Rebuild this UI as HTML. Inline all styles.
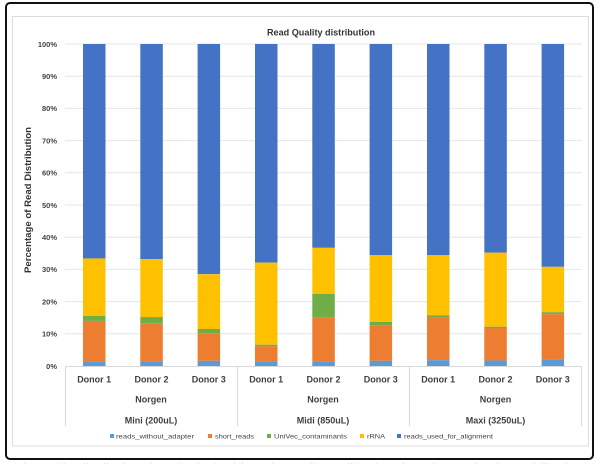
<!DOCTYPE html>
<html><head><meta charset="utf-8"><style>
html,body{margin:0;padding:0;background:#fff;}
svg{display:block;}
text{font-family:"Liberation Sans",sans-serif;}
</style></head><body>
<svg width="600" height="464" viewBox="0 0 600 464" xmlns="http://www.w3.org/2000/svg">
<rect x="0" y="0" width="600" height="464" fill="#fff"/>
<!-- outer frame -->
<rect x="6" y="3" width="587" height="456" rx="4" fill="#fff" stroke="#111" stroke-width="2"/>
<!-- inner chart border -->
<rect x="12.5" y="16.5" width="576" height="429.5" fill="#fff" stroke="#dcdcdc" stroke-width="1"/>
<!-- title -->
<text x="321" y="35.5" font-size="9.5" font-weight="bold" text-anchor="middle" fill="#333" textLength="108" lengthAdjust="spacingAndGlyphs">Read Quality distribution</text>
<!-- gridlines -->
<g stroke="#e6e6e6" stroke-width="1">
<line x1="65" x2="582" y1="44" y2="44"/>
<line x1="65" x2="582" y1="76.2" y2="76.2"/>
<line x1="65" x2="582" y1="108.4" y2="108.4"/>
<line x1="65" x2="582" y1="140.6" y2="140.6"/>
<line x1="65" x2="582" y1="172.8" y2="172.8"/>
<line x1="65" x2="582" y1="205" y2="205"/>
<line x1="65" x2="582" y1="237.2" y2="237.2"/>
<line x1="65" x2="582" y1="269.4" y2="269.4"/>
<line x1="65" x2="582" y1="301.6" y2="301.6"/>
<line x1="65" x2="582" y1="333.8" y2="333.8"/>
</g>
<!-- y tick labels -->
<g font-size="7.5" font-weight="bold" fill="#444" text-anchor="end">
<text x="57" y="46.8">100%</text>
<text x="57" y="79">90%</text>
<text x="57" y="111.2">80%</text>
<text x="57" y="143.4">70%</text>
<text x="57" y="175.6">60%</text>
<text x="57" y="207.8">50%</text>
<text x="57" y="240">40%</text>
<text x="57" y="272.2">30%</text>
<text x="57" y="304.4">20%</text>
<text x="57" y="336.6">10%</text>
<text x="57" y="368.8">0%</text>
</g>
<!-- y axis title -->
<text transform="translate(31,200) rotate(-90)" font-size="9" font-weight="bold" fill="#333" text-anchor="middle" textLength="146" lengthAdjust="spacingAndGlyphs">Percentage of Read Distribution</text>
<!-- bars -->
<g>
<!-- bar1 -->
<rect x="83" y="44" width="22.5" height="214.45" fill="#4472C4"/>
<rect x="83" y="258.45" width="22.5" height="57.32" fill="#FFC000"/>
<rect x="83" y="315.77" width="22.5" height="5.15" fill="#70AD47"/>
<rect x="83" y="320.92" width="22.5" height="40.25" fill="#ED7D31"/>
<rect x="83" y="361.17" width="22.5" height="4.83" fill="#5B9BD5"/>
<!-- bar2 -->
<rect x="140.3" y="44" width="22.5" height="215.1" fill="#4472C4"/>
<rect x="140.3" y="259.1" width="22.5" height="57.96" fill="#FFC000"/>
<rect x="140.3" y="317.06" width="22.5" height="6.11" fill="#70AD47"/>
<rect x="140.3" y="323.17" width="22.5" height="38" fill="#ED7D31"/>
<rect x="140.3" y="361.17" width="22.5" height="4.83" fill="#5B9BD5"/>
<!-- bar3 -->
<rect x="197.6" y="44" width="22.5" height="230.23" fill="#4472C4"/>
<rect x="197.6" y="274.23" width="22.5" height="54.74" fill="#FFC000"/>
<rect x="197.6" y="328.97" width="22.5" height="4.19" fill="#70AD47"/>
<rect x="197.6" y="333.16" width="22.5" height="27.69" fill="#ED7D31"/>
<rect x="197.6" y="360.85" width="22.5" height="5.15" fill="#5B9BD5"/>
<!-- bar4 -->
<rect x="255" y="44" width="22.5" height="218.64" fill="#4472C4"/>
<rect x="255" y="262.64" width="22.5" height="82.11" fill="#FFC000"/>
<rect x="255" y="344.75" width="22.5" height="1.61" fill="#70AD47"/>
<rect x="255" y="346.36" width="22.5" height="14.81" fill="#ED7D31"/>
<rect x="255" y="361.17" width="22.5" height="4.83" fill="#5B9BD5"/>
<!-- bar5 -->
<rect x="312.3" y="44" width="22.5" height="203.83" fill="#4472C4"/>
<rect x="312.3" y="247.83" width="22.5" height="46.04" fill="#FFC000"/>
<rect x="312.3" y="293.87" width="22.5" height="23.83" fill="#70AD47"/>
<rect x="312.3" y="317.7" width="22.5" height="43.47" fill="#ED7D31"/>
<rect x="312.3" y="361.17" width="22.5" height="4.83" fill="#5B9BD5"/>
<!-- bar6 -->
<rect x="369.6" y="44" width="22.5" height="211.23" fill="#4472C4"/>
<rect x="369.6" y="255.23" width="22.5" height="66.66" fill="#FFC000"/>
<rect x="369.6" y="321.89" width="22.5" height="3.86" fill="#70AD47"/>
<rect x="369.6" y="325.75" width="22.5" height="35.1" fill="#ED7D31"/>
<rect x="369.6" y="360.85" width="22.5" height="5.15" fill="#5B9BD5"/>
<!-- bar7 -->
<rect x="427" y="44" width="22.5" height="211.23" fill="#4472C4"/>
<rect x="427" y="255.23" width="22.5" height="60.22" fill="#FFC000"/>
<rect x="427" y="315.45" width="22.5" height="1.61" fill="#70AD47"/>
<rect x="427" y="317.06" width="22.5" height="43.14" fill="#ED7D31"/>
<rect x="427" y="360.2" width="22.5" height="5.8" fill="#5B9BD5"/>
<!-- bar8 -->
<rect x="484.3" y="44" width="22.5" height="208.66" fill="#4472C4"/>
<rect x="484.3" y="252.66" width="22.5" height="74.06" fill="#FFC000"/>
<rect x="484.3" y="326.72" width="22.5" height="1.28" fill="#70AD47"/>
<rect x="484.3" y="328" width="22.5" height="32.53" fill="#ED7D31"/>
<rect x="484.3" y="360.53" width="22.5" height="5.47" fill="#5B9BD5"/>
<!-- bar9 -->
<rect x="541.6" y="44" width="22.5" height="222.82" fill="#4472C4"/>
<rect x="541.6" y="266.82" width="22.5" height="45.41" fill="#FFC000"/>
<rect x="541.6" y="312.23" width="22.5" height="1.93" fill="#70AD47"/>
<rect x="541.6" y="314.16" width="22.5" height="45.08" fill="#ED7D31"/>
<rect x="541.6" y="359.24" width="22.5" height="6.76" fill="#5B9BD5"/>
</g>
<!-- axis line and category separators -->
<g stroke="#d9d9d9" stroke-width="1">
<line x1="65" x2="582" y1="366.5" y2="366.5"/>
<line x1="65.5" x2="65.5" y1="366" y2="426"/>
<line x1="237.5" x2="237.5" y1="366" y2="426"/>
<line x1="409.5" x2="409.5" y1="366" y2="426"/>
<line x1="581.5" x2="581.5" y1="366" y2="426"/>
</g>
<!-- category labels -->
<g font-size="9" font-weight="bold" fill="#404040" text-anchor="middle">
<text x="94.2" y="382.5">Donor 1</text>
<text x="151.5" y="382.5">Donor 2</text>
<text x="208.8" y="382.5">Donor 3</text>
<text x="266.2" y="382.5">Donor 1</text>
<text x="323.5" y="382.5">Donor 2</text>
<text x="380.8" y="382.5">Donor 3</text>
<text x="438.2" y="382.5">Donor 1</text>
<text x="495.5" y="382.5">Donor 2</text>
<text x="552.8" y="382.5">Donor 3</text>
<text x="151" y="402.5">Norgen</text>
<text x="323" y="402.5">Norgen</text>
<text x="495.5" y="402.5">Norgen</text>
<text x="151" y="423.5">Mini (200uL)</text>
<text x="323" y="423.5">Midi (850uL)</text>
<text x="495.5" y="423.5">Maxi (3250uL)</text>
</g>
<!-- legend -->
<g font-size="6.8" fill="#444">
<rect x="110" y="434" width="4" height="4" fill="#5B9BD5"/>
<text x="116" y="438.6" textLength="78" lengthAdjust="spacingAndGlyphs">reads_without_adapter</text>
<rect x="208" y="434" width="4" height="4" fill="#ED7D31"/>
<text x="215" y="438.6" textLength="39" lengthAdjust="spacingAndGlyphs">short_reads</text>
<rect x="267" y="434" width="4" height="4" fill="#70AD47"/>
<text x="274" y="438.6" textLength="73" lengthAdjust="spacingAndGlyphs">UniVec_contaminants</text>
<rect x="360" y="434" width="4" height="4" fill="#FFC000"/>
<text x="367" y="438.6" textLength="18" lengthAdjust="spacingAndGlyphs">rRNA</text>
<rect x="397" y="434" width="4" height="4" fill="#4472C4"/>
<text x="404" y="438.6" textLength="89" lengthAdjust="spacingAndGlyphs">reads_used_for_alignment</text>
</g>
<!-- cut-off caption fragments -->
<text x="20" y="471" font-size="10" fill="#bbb" textLength="560" lengthAdjust="spacing">the quality distribution of reads obtained from the small RNA libraries after adapter trimming and filtering</text>
</svg>
</body></html>
